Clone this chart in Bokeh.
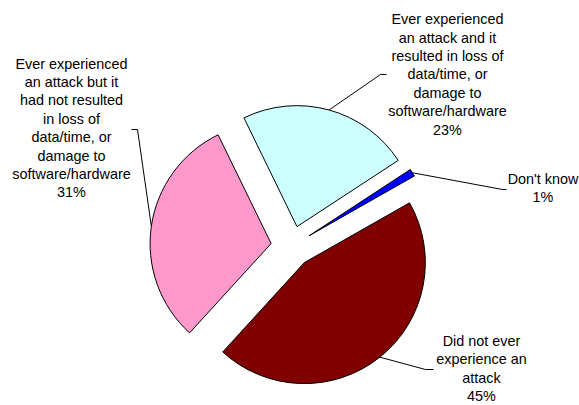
import math
from bokeh.plotting import figure
from bokeh.models import Range1d
from bokeh.core.properties import value
from bokeh.embed import file_html
from bokeh.resources import INLINE

# ---- data ----
categories = [
    "Ever experienced an attack and it resulted in loss of data/time, or damage to software/hardware",
    "Don't know",
    "Did not ever experience an attack",
    "Ever experienced an attack but it had not resulted in loss of data/time, or damage to software/hardware",
]
percents = [23, 1, 45, 31]
colors = ["#CCFFFF", "#0000FF", "#800000", "#FF99CC"]
label_texts = [
    "Ever experienced\nan attack and it\nresulted in loss of\ndata/time, or\ndamage to\nsoftware/hardware",
    "Don't know",
    "Did not ever\nexperience an\nattack",
    "Ever experienced\nan attack but it\nhad not resulted\nin loss of\ndata/time, or\ndamage to\nsoftware/hardware",
]

# ---- layout (screen px, y down) ----
W, H = 579, 405
CX, CY = 291.0, 246.0
R = 121.0
EXPLODE = 20.6
START = -26.0  # degrees, clockwise from 12 o'clock
label_pos = [(447, 74), (542.5, 187.5), (481, 368), (71, 127.5)]
leader_elbow = [[(380, 74), (386, 74)], [(502, 189), (506, 189)],
                [(425, 369), (433, 369)], [(137, 129), (131, 129)]]


def to_data(x, y):
    return x, H - y


p = figure(width=W, height=H, x_range=Range1d(0, W), y_range=Range1d(0, H),
           output_backend="svg", toolbar_location=None,
           x_axis_type=None, y_axis_type=None, min_border=0)
p.grid.visible = False
p.outline_line_color = None
p.background_fill_color = "white"
p.border_fill_color = "white"

total = float(sum(percents))
theta = START
for i, v in enumerate(percents):
    span = v / total * 360.0
    t1, t2 = theta, theta + span
    tm = (t1 + t2) / 2.0
    rad = math.radians(tm)
    vx = CX + EXPLODE * math.sin(rad)
    vy = CY - EXPLODE * math.cos(rad)
    dx, dy = to_data(vx, vy)
    p.wedge(x=dx, y=dy, radius=R,
            start_angle=math.radians(90 - t2), end_angle=math.radians(90 - t1),
            direction="anticlock", fill_color=colors[i], line_color="black", line_width=1)
    # leader line from arc midpoint
    ax = vx + R * math.sin(rad)
    ay = vy - R * math.cos(rad)
    pts = [(ax, ay)] + leader_elbow[i]
    xs = [pt[0] for pt in pts]
    ys = [H - pt[1] for pt in pts]
    p.line(xs, ys, line_color="black", line_width=1)
    # label
    lx, ly = to_data(*label_pos[i])
    txt = label_texts[i] + "\n" + f"{v}%"
    p.text(x=[lx], y=[ly], text=[txt], text_align="center", text_baseline="middle",
           text_font=value("Liberation Sans"), text_font_size="14.4px",
           text_color="black", text_line_height=1.15)
    theta = t2

open("out.html", "w").write(file_html(p, INLINE))
